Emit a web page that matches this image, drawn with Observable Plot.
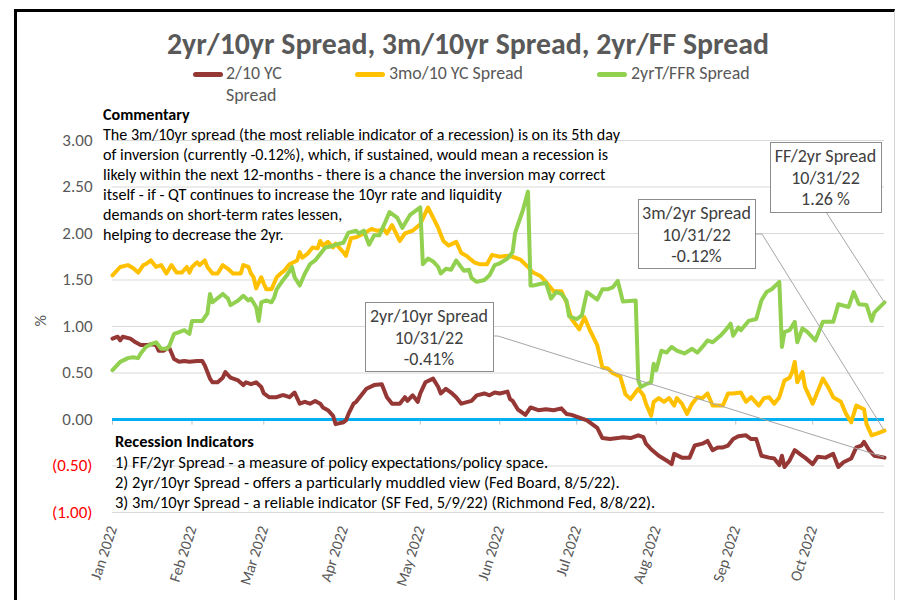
<!DOCTYPE html>
<html>
<head>
<meta charset="utf-8">
<script src="https://cdn.jsdelivr.net/npm/d3@7"></script>
<script src="https://cdn.jsdelivr.net/npm/@observablehq/plot@0.6"></script>
<style>
html,body{margin:0;padding:0;background:#fff;}
#chart{position:relative;width:900px;height:600px;overflow:hidden;background:#fff;font-family:Carlito,Calibri,Lato,"Open Sans",sans-serif;}
#chart svg{position:absolute;left:0;top:0;}
.abs{position:absolute;white-space:nowrap;line-height:1;transform:translate(0,-50%);}
#frame{position:absolute;left:14px;top:9px;width:881px;height:600px;border-top:3px solid #000;border-left:3px solid #000;border-right:1px solid #d4d4d4;box-sizing:border-box;pointer-events:none;}
</style>
</head>
<body>
<div id="chart"></div>
<script>
// ---------- DATA ----------
const titleText = "2yr/10yr Spread, 3m/10yr Spread, 2yr/FF Spread";
const seriesNames = ["2/10 YC Spread", "3mo/10 YC Spread", "2yrT/FFR Spread"];
const seriesColors = ["#953735", "#FFC000", "#92D050"];

// 2/10 YC Spread (brown)
const dates2_10 = ["01-03","01-05","01-06","01-07","01-10","01-12","01-14","01-17","01-18","01-20",
"01-21","01-23","01-25","01-27","01-29","01-31","02-02","02-05","02-07","02-08",
"02-10","02-11","02-13","02-15","02-16","02-18","02-21","02-23","02-24","02-26",
"02-28","03-02","03-03","03-05","03-08","03-10","03-11","03-13","03-15","03-17",
"03-19","03-21","03-23","03-25","03-26","03-28","03-30","03-31","04-03","04-04",
"04-05","04-07","04-08","04-10","04-12","04-15","04-18","04-20","04-22","04-25",
"04-27","04-28","04-30","05-02","05-03","05-05","05-08","05-10","05-11","05-13",
"05-15","05-17","05-19","05-23","05-25","05-28","05-30","06-01","06-03","06-06",
"06-07","06-08","06-10","06-13","06-15","06-18","06-21","06-24","06-27","06-29",
"07-01","07-04","07-07","07-09","07-11","07-13","07-16","07-19","07-21","07-24",
"07-27","07-29","07-30","08-01","08-04","08-07","08-09","08-10","08-13","08-16",
"08-18","08-21","08-23","08-25","08-27","08-29","08-31","09-02","09-04","09-07",
"09-09","09-11","09-13","09-16","09-18","09-20","09-21","09-22","09-24","09-26",
"09-29","09-30","10-03","10-05","10-08","10-11","10-13","10-15","10-18","10-20",
"10-22","10-23","10-25","10-27","10-31"];
const values2_10 = [0.87,0.89,0.85,0.89,0.87,0.83,0.80,0.80,0.81,0.80,
0.74,0.74,0.78,0.65,0.62,0.63,0.62,0.63,0.63,0.58,
0.44,0.40,0.40,0.45,0.51,0.45,0.42,0.37,0.40,0.38,
0.40,0.35,0.28,0.24,0.24,0.26,0.26,0.24,0.29,0.17,
0.19,0.17,0.20,0.17,0.13,0.10,0.04,-0.05,-0.03,-0.01,
0.06,0.17,0.19,0.26,0.33,0.37,0.38,0.24,0.17,0.17,
0.24,0.20,0.26,0.19,0.28,0.40,0.44,0.35,0.28,0.33,
0.29,0.24,0.17,0.20,0.26,0.28,0.26,0.29,0.28,0.30,
0.22,0.20,0.11,0.05,0.13,0.10,0.11,0.10,0.12,0.06,
0.05,0.02,-0.01,-0.05,-0.09,-0.20,-0.21,-0.20,-0.19,-0.20,
-0.17,-0.19,-0.26,-0.32,-0.39,-0.44,-0.48,-0.37,-0.41,-0.41,
-0.28,-0.26,-0.23,-0.33,-0.30,-0.30,-0.28,-0.21,-0.18,-0.17,
-0.21,-0.21,-0.39,-0.41,-0.42,-0.49,-0.39,-0.51,-0.44,-0.33,
-0.39,-0.41,-0.48,-0.40,-0.41,-0.37,-0.51,-0.46,-0.42,-0.30,
-0.28,-0.24,-0.33,-0.39,-0.41];

// 3mo/10 YC Spread (orange)
const dates3m_10 = ["01-03","01-06","01-09","01-11","01-13","01-15","01-16","01-18","01-20","01-22",
"01-24","01-26","01-28","01-30","02-01","02-02","02-03","02-05","02-06","02-08",
"02-09","02-11","02-13","02-15","02-17","02-19","02-22","02-23","02-25","02-26",
"02-27","02-28","03-02","03-03","03-04","03-06","03-08","03-10","03-11","03-13",
"03-16","03-17","03-18","03-20","03-22","03-24","03-25","03-26","03-28","03-30",
"03-31","04-03","04-04","04-06","04-08","04-11","04-14","04-16","04-19","04-20",
"04-22","04-25","04-27","04-30","05-03","05-06","05-08","05-10","05-12","05-14",
"05-17","05-19","05-21","05-24","05-26","05-29","05-31","06-03","06-06","06-08",
"06-11","06-14","06-16","06-19","06-21","06-24","06-27","06-29","07-01","07-04",
"07-06","07-08","07-11","07-13","07-15","07-17","07-20","07-22","07-24","07-27",
"07-29","07-30","08-01","08-02","08-04","08-06","08-08","08-10","08-11","08-13",
"08-15","08-17","08-19","08-21","08-23","08-25","08-29","08-31","09-02","09-05",
"09-07","09-09","09-12","09-14","09-16","09-18","09-20","09-22","09-24","09-25",
"09-26","09-27","09-29","09-30","10-03","10-07","10-09","10-11","10-14","10-16",
"10-18","10-20","10-23","10-24","10-26","10-29","10-31"];
const values3m_10 = [1.55,1.64,1.66,1.63,1.58,1.66,1.67,1.71,1.64,1.66,
1.57,1.66,1.58,1.58,1.64,1.58,1.64,1.69,1.66,1.71,
1.64,1.57,1.57,1.66,1.62,1.57,1.57,1.66,1.64,1.57,
1.53,1.41,1.53,1.46,1.40,1.40,1.53,1.58,1.60,1.67,
1.71,1.80,1.74,1.78,1.85,1.84,1.92,1.87,1.91,1.85,
1.89,1.80,1.76,1.95,1.96,2.00,2.05,2.03,2.04,2.00,
2.09,1.92,2.00,2.03,2.10,2.28,2.17,2.06,1.92,1.87,
1.91,1.79,1.76,1.69,1.67,1.67,1.77,1.75,1.76,1.75,
1.72,1.64,1.58,1.54,1.48,1.38,1.38,1.26,1.08,0.97,
1.10,0.97,0.80,0.56,0.55,0.50,0.46,0.27,0.22,0.33,
0.26,0.17,0.04,0.19,0.23,0.19,0.23,0.15,0.23,0.17,
0.06,0.17,0.24,0.23,0.28,0.15,0.15,0.28,0.28,0.29,
0.19,0.24,0.15,0.23,0.24,0.17,0.24,0.42,0.45,0.51,
0.62,0.40,0.51,0.35,0.17,0.44,0.35,0.24,0.19,0.06,
-0.03,0.15,0.11,-0.05,-0.17,-0.14,-0.12];

// 2yrT/FFR Spread (green)
const datesFF = ["01-03","01-06","01-09","01-11","01-13","01-14","01-16","01-18","01-20","01-22",
"01-24","01-25","01-27","01-29","01-31","02-02","02-03","02-07","02-09","02-10",
"02-11","02-15","02-17","02-18","02-21","02-23","02-25","02-26","02-28","03-01",
"03-02","03-04","03-06","03-07","03-08","03-10","03-12","03-14","03-15","03-17",
"03-19","03-21","03-23","03-25","03-27","03-29","03-31","04-03","04-05","04-08",
"04-09","04-11","04-13","04-15","04-17","04-19","04-21","04-24","04-26","04-29",
"05-01","05-03","05-04","05-06","05-08","05-10","05-11","05-13","05-15","05-17",
"05-20","05-22","05-23","05-25","05-28","05-30","06-01","06-03","06-06","06-08",
"06-09","06-12","06-14","06-15","06-16","06-19","06-21","06-23","06-25","06-27",
"06-29","06-30","07-03","07-05","07-07","07-09","07-11","07-13","07-15","07-17",
"07-19","07-21","07-26","07-27","07-28","07-30","08-01","08-02","08-03","08-05",
"08-07","08-09","08-11","08-14","08-17","08-19","08-21","08-23","08-25","08-28",
"08-30","09-01","09-02","09-04","09-05","09-08","09-11","09-13","09-15","09-17",
"09-20","09-21","09-22","09-24","09-26","09-27","09-29","10-01","10-04","10-07",
"10-11","10-13","10-17","10-19","10-21","10-24","10-26","10-27","10-31"];
const valuesFF = [0.53,0.62,0.66,0.67,0.66,0.71,0.78,0.81,0.83,0.76,
0.76,0.78,0.92,0.94,0.96,0.92,1.06,1.06,1.14,1.35,
1.26,1.35,1.30,1.23,1.28,1.33,1.28,1.30,1.21,1.06,
1.26,1.28,1.26,1.31,1.40,1.48,1.55,1.64,1.53,1.44,
1.57,1.67,1.71,1.78,1.85,1.86,1.88,1.90,2.01,2.03,
2.00,2.03,1.88,1.98,1.98,2.10,2.23,2.17,2.06,2.20,
2.24,2.28,1.67,1.73,1.70,1.64,1.57,1.62,1.61,1.71,
1.60,1.61,1.52,1.48,1.50,1.55,1.66,1.68,1.73,1.80,
2.01,2.25,2.45,1.44,1.44,1.46,1.47,1.30,1.37,1.35,
1.28,1.11,1.08,1.12,1.37,1.33,1.29,1.40,1.40,1.42,
1.49,1.27,1.28,0.42,0.35,0.38,0.40,0.60,0.53,0.74,
0.72,0.78,0.74,0.71,0.76,0.72,0.78,0.85,0.83,0.90,
0.96,1.03,0.90,0.99,0.96,1.06,1.08,1.28,1.37,1.40,
1.48,0.78,0.94,0.96,1.05,0.83,0.98,0.94,0.85,1.05,
1.05,1.24,1.21,1.37,1.24,1.23,1.06,1.15,1.26];

const yTickValues = [-1, -0.5, 0, 0.5, 1, 1.5, 2, 2.5, 3];
const yTickLabels = ["(1.00)", "(0.50)", "0.00", "0.50", "1.00", "1.50", "2.00", "2.50", "3.00"];
const monthTickDates = ["2022-01-03","2022-02-03","2022-03-03","2022-04-03","2022-05-03","2022-06-03","2022-07-03","2022-08-03","2022-09-03","2022-10-03"];
const monthLabels = ["Jan 2022","Feb 2022","Mar 2022","Apr 2022","May 2022","Jun 2022","Jul 2022","Aug 2022","Sep 2022","Oct 2022"];
const xStart = "2022-01-03", xEnd = "2022-10-31";

const commentaryTitle = "Commentary";
const commentaryLines = [
  "The 3m/10yr spread (the most reliable indicator of a recession) is on its 5th day",
  "of inversion (currently -0.12%), which, if sustained, would mean a recession is",
  "likely within the next 12-months - there is a chance the inversion may correct",
  "itself - if - QT continues to increase the 10yr rate and liquidity",
  "demands on short-term rates lessen,",
  "helping to decrease the 2yr."
];
const indicatorsTitle = "Recession Indicators";
const indicatorLines = [
  "1) FF/2yr Spread - a measure of policy expectations/policy space.",
  "2) 2yr/10yr Spread - offers a particularly muddled view (Fed Board, 8/5/22).",
  "3) 3m/10yr Spread - a reliable indicator (SF Fed, 5/9/22) (Richmond Fed, 8/8/22)."
];
const annotationLines = [
  ["2yr/10yr Spread", "10/31/22", "-0.41%"],
  ["3m/2yr Spread", "10/31/22", "-0.12%"],
  ["FF/2yr Spread", "10/31/22", "1.26 %"]
];

// ---------- BUILD ----------
const FONT = 'Carlito, Calibri, Lato, "Open Sans", sans-serif';
const parse = s => new Date(`2022-${s}T00:00:00Z`);
const mk = (dates, vals, name) => dates.map((d, i) => ({date: parse(d), value: vals[i], series: name}));
const s210 = mk(dates2_10, values2_10, seriesNames[0]);
const s3m = mk(dates3m_10, values3m_10, seriesNames[1]);
const sFF = mk(datesFF, valuesFF, seriesNames[2]);
const monthTicks = monthTickDates.map(s => new Date(s + "T00:00:00Z"));
const posTicks = yTickValues.filter(v => v >= 0);
const negTicks = yTickValues.filter(v => v < 0);
const yLab = v => yTickLabels[yTickValues.indexOf(v)];
const xLab = d => monthLabels[monthTicks.findIndex(t => +t === +d)];

const plot = Plot.plot({
  width: 900, height: 600,
  marginLeft: 112, marginRight: 16, marginTop: 140, marginBottom: 88,
  x: {type: "utc", domain: [new Date(xStart + "T00:00:00Z"), new Date(xEnd + "T00:00:00Z")]},
  y: {domain: [-1, 3]},
  style: {fontFamily: FONT, fontSize: "16px", color: "#595959", background: "transparent", overflow: "visible"},
  marks: [
    Plot.gridY(yTickValues, {stroke: "#d9d9d9", strokeOpacity: 1}),
    Plot.axisY(posTicks, {tickSize: 0, tickPadding: 20, tickFormat: yLab, fill: "#595959", fontSize: 17, label: null}),
    Plot.axisY(negTicks, {tickSize: 0, tickPadding: 20, tickFormat: yLab, fill: "#ff0000", fontSize: 17, label: null}),
    Plot.text(["%"], {frameAnchor: "left", dx: -72, rotate: -90, fill: "#595959", fontSize: 16}),
    Plot.axisX(monthTicks, {tickSize: 0, tickRotate: -72, tickPadding: 14, tickFormat: xLab, fill: "#595959", fontSize: 15.5, label: null}),
    Plot.ruleX(monthTicks, {x: d => d, y1: 0, y2: -0.06, stroke: "#bfbfbf"}),
    Plot.ruleY([0], {stroke: "#00B0F0", strokeWidth: 3}),
    Plot.line(s210, {x: "date", y: "value", stroke: seriesColors[0], strokeWidth: 4, strokeLinejoin: "round", strokeLinecap: "round"}),
    Plot.line(s3m, {x: "date", y: "value", stroke: seriesColors[1], strokeWidth: 4, strokeLinejoin: "round", strokeLinecap: "round"}),
    Plot.line(sFF, {x: "date", y: "value", stroke: seriesColors[2], strokeWidth: 4, strokeLinejoin: "round", strokeLinecap: "round"})
  ]
});
const chart = document.getElementById("chart");
chart.appendChild(plot);

// Annotation callouts (boxes + leaders to each series' last point via the plot scales)
const xs = plot.scale("x"), ys = plot.scale("y");
const lastPts = [s210, s3m, sFF].map(s => s[s.length - 1]).map(p => [xs.apply(p.date), ys.apply(p.value)]);
const boxes = [
  {x: 365, y: 302, w: 128, h: 69, path: [[493, 336], [498, 336]]},
  {x: 638, y: 199, w: 117, h: 69, path: [[755, 234], [762, 234]]},
  {x: 770, y: 142, w: 111, h: 70, path: [[826, 212]]}
];
const svg = d3.select(plot);
const g = svg.append("g");
boxes.forEach((b, i) => {
  const pts = b.path.concat([lastPts[i]]);
  g.append("path").attr("d", d3.line()(pts)).attr("fill", "none").attr("stroke", "#a6a6a6").attr("stroke-width", 1);
});
const annoTexts = [];
boxes.forEach((b, i) => {
  g.append("rect").attr("x", b.x + 0.5).attr("y", b.y + 0.5).attr("width", b.w).attr("height", b.h)
    .attr("fill", "#fff").attr("stroke", "#8c8c8c").attr("stroke-width", 1);
  annotationLines[i].forEach((t, j) => {
    annoTexts.push(g.append("text").attr("x", b.x + b.w / 2).attr("y", b.y + 14 + j * 21.5)
      .attr("text-anchor", "middle").attr("dominant-baseline", "central")
      .attr("fill", "#404040").attr("font-size", 18).attr("font-family", FONT).text(t).node());
  });
});

// HTML text: title, legend, commentary, indicators, frame
function add(text, left, top, css) {
  const d = document.createElement("div");
  d.className = "abs";
  d.textContent = text;
  d.style.left = left + "px";
  d.style.top = top + "px";
  Object.assign(d.style, css || {});
  chart.appendChild(d);
  return d;
}
function fit(els, ref, target) {
  const w = ref.getBoundingClientRect().width;
  const fs = parseFloat(getComputedStyle(ref).fontSize);
  const nfs = fs * target / w;
  els.forEach(e => e.style.fontSize = nfs + "px");
}
const title = add(titleText, 468, 45, {fontSize: "25px", fontWeight: "bold", color: "#595959", transform: "translate(-50%,-50%)"});

const legendPos = [{sx: 193, tx: 226}, {sx: 355, tx: 389}, {sx: 597, tx: 631}];
const legendEls = [];
seriesNames.forEach((n, i) => {
  const sw = document.createElement("div");
  Object.assign(sw.style, {position: "absolute", left: legendPos[i].sx + "px", top: "72px", width: "30px", height: "5px", background: seriesColors[i], borderRadius: "2.5px"});
  chart.appendChild(sw);
  if (i === 0) {
    const parts = n.split(" ");
    legendEls.push(add(parts.slice(0, 2).join(" "), legendPos[i].tx, 74, {fontSize: "15px", color: "#595959"}));
    legendEls.push(add(parts.slice(2).join(" "), legendPos[i].tx, 96, {fontSize: "15px", color: "#595959"}));
  } else {
    legendEls.push(add(n, legendPos[i].tx, 74, {fontSize: "15px", color: "#595959"}));
  }
});

const comEls = [add(commentaryTitle, 103, 115, {fontSize: "15px", fontWeight: "bold", color: "#000"})];
commentaryLines.forEach((t, i) => comEls.push(add(t, 103, 135 + 20 * i, {fontSize: "15px", color: "#000"})));
const indEls = [add(indicatorsTitle, 115, 441, {fontSize: "15px", fontWeight: "bold", color: "#000"})];
indicatorLines.forEach((t, i) => indEls.push(add(t, 115, 462 + 20 * i, {fontSize: "15px", color: "#000"})));

const frame = document.createElement("div");
frame.id = "frame";
chart.appendChild(frame);

function layout() {
  fit([title], title, 602);
  fit(legendEls, legendEls[2], 134);
  fit(comEls, comEls[1], 517);
  fit(indEls, indEls[1], 433);
  // annotation text: "2yr/10yr Spread" should be about 117px wide
  const w = annoTexts[0].getComputedTextLength();
  if (w > 0) { const fs = 18 * 117 / w; annoTexts.forEach(t => t.setAttribute("font-size", fs)); }
}
layout();
if (document.fonts && document.fonts.ready) document.fonts.ready.then(layout);
</script>
</body>
</html>
